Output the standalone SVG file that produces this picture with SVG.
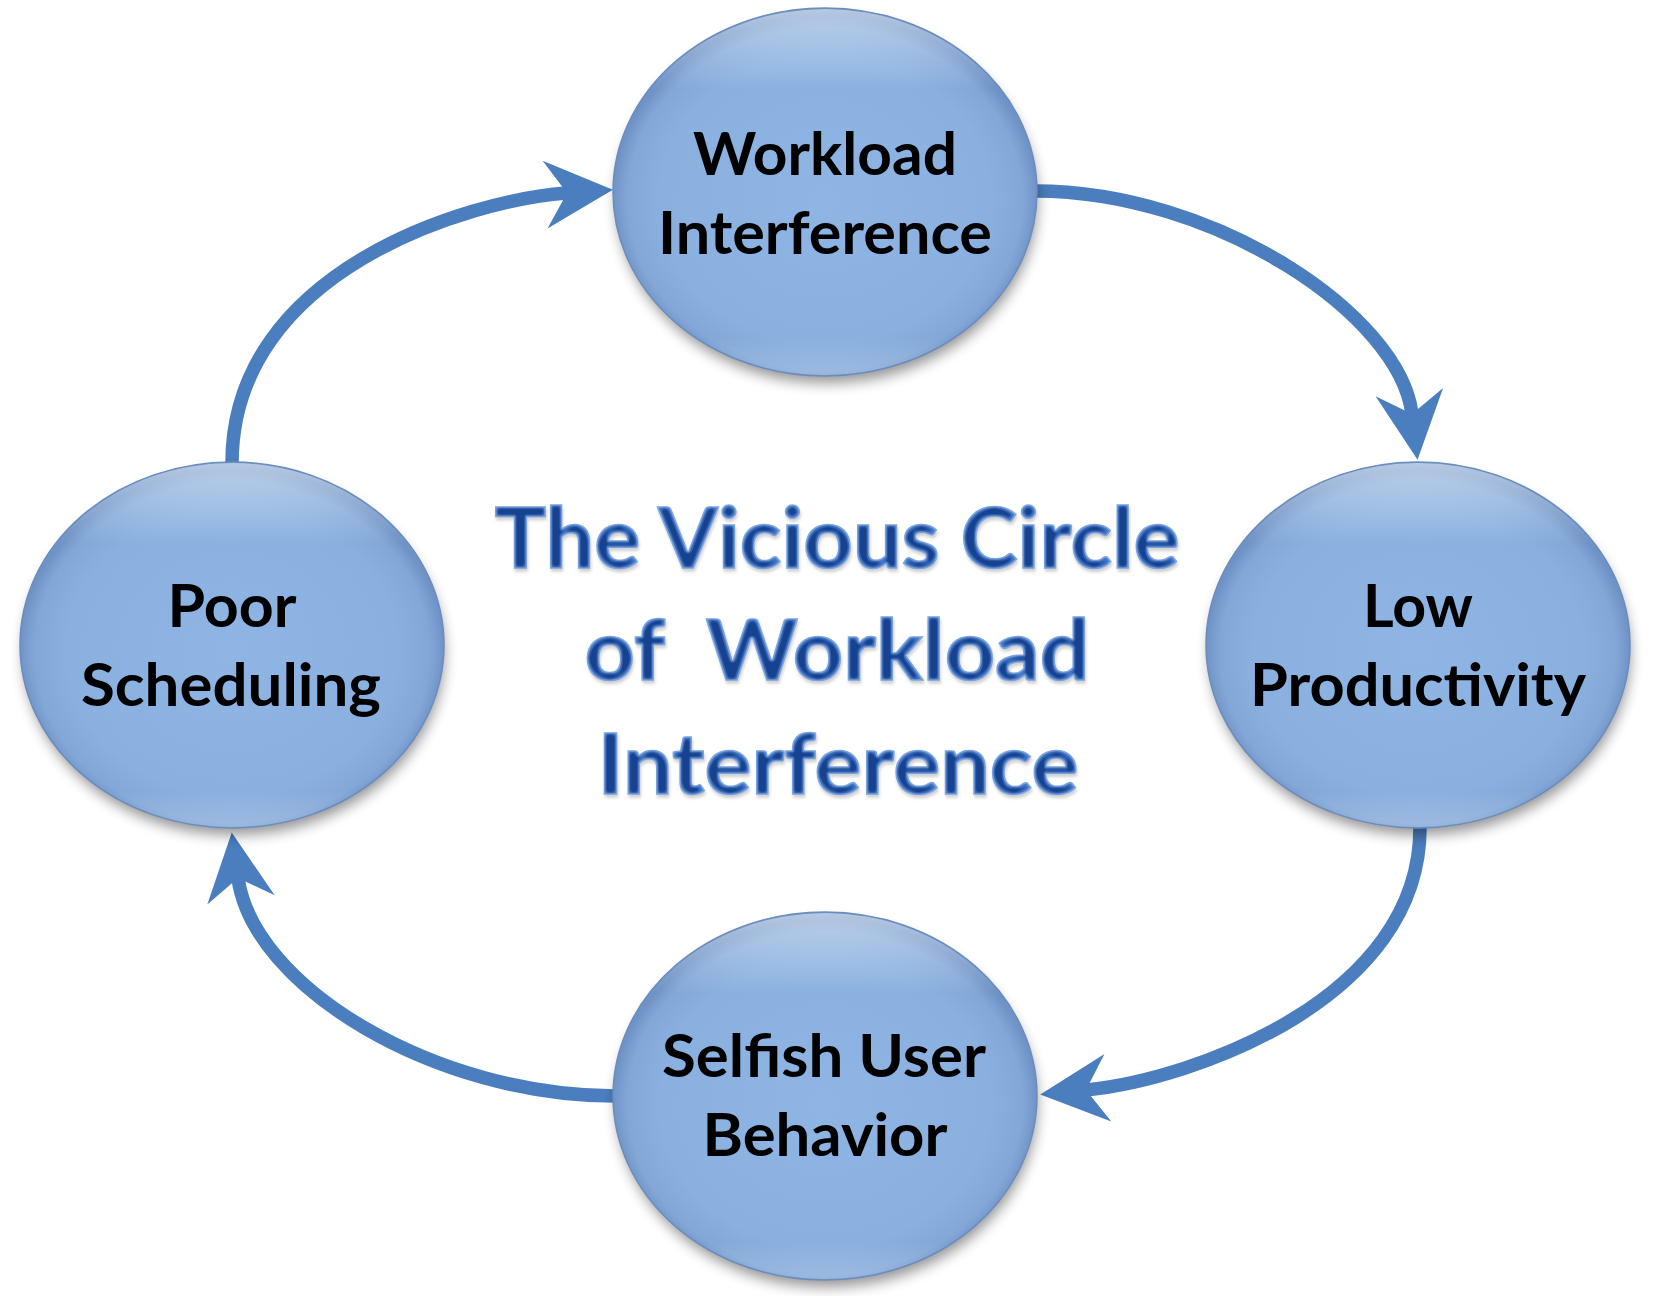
<svg xmlns="http://www.w3.org/2000/svg" width="1660" height="1296" viewBox="0 0 1660 1296">
  <defs>
    <style>
      .node-shape { fill: url(#nodeFill); stroke: #6A8DBE; stroke-width: 1.5; }
      .node-gloss { fill: url(#nodeGloss); }
      .node-shadow { fill: #000; opacity: 0.42; filter: url(#shadowBlur); }
      .node-label { font-family: Lato, "Open Sans", "Liberation Sans", sans-serif; font-weight: 700; font-size: 59px; fill: #000; text-anchor: middle; }
      .title { font-family: Lato, "Open Sans", "Liberation Sans", sans-serif; font-weight: 700; font-size: 84px; fill: #4A7FCE; stroke: #7FA6E0; stroke-width: 1.6; text-anchor: middle; white-space: pre; }
      .conn { fill: none; stroke: #4A7EBF; stroke-width: 13.5; stroke-linecap: round; marker-end: url(#arrowHead); }
    </style>
    <radialGradient id="nodeFill" cx="50%" cy="52%" r="50%">
      <stop offset="0%" stop-color="#8FB5E4"/>
      <stop offset="78%" stop-color="#8AB0DF"/>
      <stop offset="93%" stop-color="#83A8D8"/>
      <stop offset="100%" stop-color="#6F93C6"/>
    </radialGradient>
    <linearGradient id="nodeGloss" x1="0" y1="0" x2="0" y2="1">
      <stop offset="0%" stop-color="#FFFFFF" stop-opacity="0.5"/>
      <stop offset="6%" stop-color="#FFFFFF" stop-opacity="0.35"/>
      <stop offset="22%" stop-color="#FFFFFF" stop-opacity="0"/>
      <stop offset="90%" stop-color="#FFFFFF" stop-opacity="0"/>
      <stop offset="100%" stop-color="#FFFFFF" stop-opacity="0.22"/>
    </linearGradient>
    <filter id="shadowBlur" x="-20%" y="-20%" width="140%" height="140%">
      <feGaussianBlur stdDeviation="7"/>
    </filter>
    <filter id="bevel" x="-5%" y="-20%" width="110%" height="150%" color-interpolation-filters="sRGB">
      <feMorphology in="SourceAlpha" operator="erode" radius="2.5" result="er"/>
      <feGaussianBlur in="er" stdDeviation="1.8" result="erb"/>
      <feComponentTransfer in="erb" result="erb2">
        <feFuncA type="linear" slope="1.6"/>
      </feComponentTransfer>
      <feFlood flood-color="#17428F" result="fc"/>
      <feComposite in="fc" in2="erb2" operator="in" result="core"/>
      <feComposite in="core" in2="SourceAlpha" operator="in" result="core2"/>
      <feGaussianBlur in="SourceAlpha" stdDeviation="1.5" result="sh"/>
      <feOffset in="sh" dx="1" dy="2.5" result="sho"/>
      <feFlood flood-color="#000" flood-opacity="0.18" result="shc"/>
      <feComposite in="shc" in2="sho" operator="in" result="shadow"/>
      <feMerge>
        <feMergeNode in="shadow"/>
        <feMergeNode in="SourceGraphic"/>
        <feMergeNode in="core2"/>
      </feMerge>
    </filter>
    <marker id="arrowHead" markerUnits="userSpaceOnUse" viewBox="-30 -40 80 80" markerWidth="80" markerHeight="80" refX="0" refY="0" orient="auto" overflow="visible">
      <path d="M46,0 L-22,-34 L0,0 L-22,34 Z" fill="#4A7EBF"/>
    </marker>
  </defs>

  <rect x="0" y="0" width="1660" height="1296" fill="#FFFFFF"/>

  <g id="connectors">
    <path class="conn" d="M232,463 C232,270 470,200 567,193"/>
    <path class="conn" d="M1035,191 C1215,191 1400,315 1412,414"/>
    <path class="conn" d="M1420,828 C1420,998 1195,1079 1086,1090"/>
    <path class="conn" d="M615,1096 C435,1096 253,987 238,878"/>
  </g>

  <g id="node-workload-interference">
    <ellipse class="node-shadow" cx="827" cy="201" rx="210" ry="182"/>
    <ellipse class="node-shape" cx="825" cy="192" rx="212" ry="184"/>
    <ellipse class="node-gloss" cx="825" cy="192" rx="211" ry="183"/>
    <text class="node-label" x="825" y="175" textLength="264" lengthAdjust="spacingAndGlyphs">Workload</text>
    <text class="node-label" x="825" y="254" textLength="334" lengthAdjust="spacingAndGlyphs">Interference</text>
  </g>

  <g id="node-low-productivity">
    <ellipse class="node-shadow" cx="1420" cy="654" rx="210" ry="181"/>
    <ellipse class="node-shape" cx="1418" cy="645" rx="212" ry="183"/>
    <ellipse class="node-gloss" cx="1418" cy="645" rx="211" ry="182"/>
    <text class="node-label" x="1418" y="627" textLength="110" lengthAdjust="spacingAndGlyphs">Low</text>
    <text class="node-label" x="1418" y="706" textLength="336" lengthAdjust="spacingAndGlyphs">Productivity</text>
  </g>

  <g id="node-selfish-user-behavior">
    <ellipse class="node-shadow" cx="827" cy="1105" rx="210" ry="182"/>
    <ellipse class="node-shape" cx="825" cy="1096" rx="212" ry="184"/>
    <ellipse class="node-gloss" cx="825" cy="1096" rx="211" ry="183"/>
    <text class="node-label" x="824" y="1077" textLength="324" lengthAdjust="spacingAndGlyphs">Selfish User</text>
    <text class="node-label" x="825" y="1156" textLength="245" lengthAdjust="spacingAndGlyphs">Behavior</text>
  </g>

  <g id="node-poor-scheduling">
    <ellipse class="node-shadow" cx="234" cy="654" rx="210" ry="181"/>
    <ellipse class="node-shape" cx="232" cy="645" rx="212" ry="183"/>
    <ellipse class="node-gloss" cx="232" cy="645" rx="211" ry="182"/>
    <text class="node-label" x="232" y="627" textLength="129" lengthAdjust="spacingAndGlyphs">Poor</text>
    <text class="node-label" x="231" y="706" textLength="300" lengthAdjust="spacingAndGlyphs">Scheduling</text>
  </g>

  <g id="title" filter="url(#bevel)">
    <text class="title" x="837" y="568" textLength="685" lengthAdjust="spacingAndGlyphs">The Vicious Circle</text>
    <text class="title" x="837" y="680" xml:space="preserve" textLength="505" lengthAdjust="spacingAndGlyphs">of  Workload</text>
    <text class="title" x="838" y="794" textLength="481" lengthAdjust="spacingAndGlyphs">Interference</text>
  </g>
</svg>
